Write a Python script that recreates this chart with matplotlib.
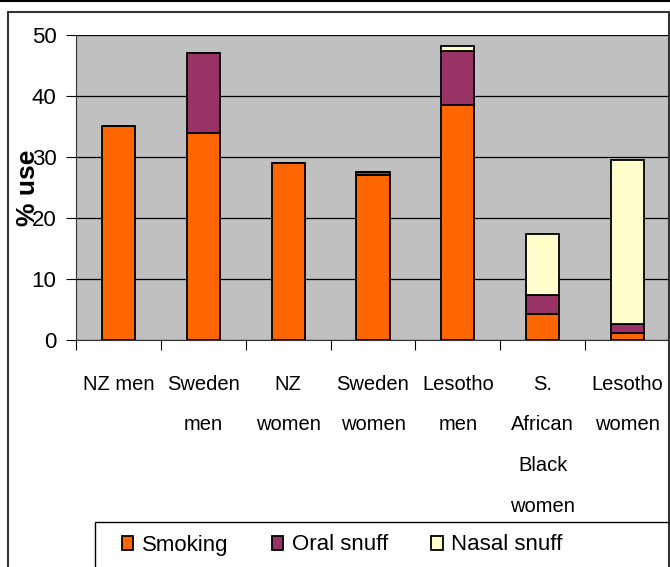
import matplotlib.pyplot as plt
import numpy as np
from matplotlib.patches import Rectangle
from matplotlib.lines import Line2D

groups = ['NZ men', 'Sweden\nmen', 'NZ\nwomen', 'Sweden\nwomen', 'Lesotho\nmen',
          'S.\nAfrican\nBlack\nwomen', 'Lesotho\nwomen']
smoking = [35, 34, 29, 27, 38.5, 4.3, 1.2]
oral = [0, 13, 0, 0.5, 8.8, 3.1, 1.5]
nasal = [0, 0, 0, 0, 0.9, 9.9, 26.8]
yticks = [0, 10, 20, 30, 40, 50]

plt.rcParams['font.family'] = ['Liberation Sans', 'DejaVu Sans']

fig = plt.figure(figsize=(6.7, 5.67), dpi=100)
ax = fig.add_axes([76/670, 1-340/567, 594/670, 305/567])
ax.set_facecolor('#C0C0C0')

x = np.arange(len(groups))
w = 0.39
kw = dict(width=w, edgecolor='black', linewidth=1.3, zorder=3)
ax.bar(x, smoking, color='#FF6600', label='Smoking', **kw)
ax.bar(x, oral, bottom=smoking, color='#993366', label='Oral snuff', **kw)
ax.bar(x, nasal, bottom=np.add(smoking, oral), color='#FFFFCC', label='Nasal snuff', **kw)

ax.set_xlim(-0.5, len(groups) - 0.5)
ax.set_ylim(0, 50)
ax.set_yticks(yticks)
ax.yaxis.grid(True, color='black', linewidth=0.9, zorder=0)
ax.set_axisbelow(True)
ax.set_xticks(np.arange(len(groups) + 1) - 0.5)
ax.set_xticklabels([])
ax.set_xticks(x, minor=True)
ax.set_xticklabels(groups, minor=True, fontsize=14.5, linespacing=2.45, va='top')
ax.tick_params(axis='x', which='minor', length=0, pad=25)
ax.tick_params(axis='x', which='major', length=7, direction='out', color='black')
ax.tick_params(axis='y', length=7, labelsize=16, pad=7)
for s in ['top', 'right']:
    ax.spines[s].set_visible(False)
ax.spines['left'].set_color('#333333')
ax.spines['bottom'].set_color('#333333')

fig.text(28/670, 1-188/567, '% use', rotation=90, ha='center', va='center',
         fontsize=19, fontweight='bold')

# outer chart frame
fig.patches.append(Rectangle((8/670, -0.1), 661/670, 1.1 - 12/567, transform=fig.transFigure,
                             fill=False, edgecolor='#333333', linewidth=1.5))
fig.lines.append(Line2D([0, 1], [1-0.8/567, 1-0.8/567], transform=fig.transFigure,
                        color='black', linewidth=1.5))
# legend box
fig.patches.append(Rectangle((95/670, -0.1), 580/670, 0.1 + 1 - 522/567, transform=fig.transFigure,
                             fill=False, edgecolor='black', linewidth=1.0))

leg = fig.legend(loc='center left', bbox_to_anchor=(122/670, 1-545/567), ncol=3,
                 fontsize=16, frameon=False,
                 handlelength=0.5, handleheight=0.6, handletextpad=0.4,
                 columnspacing=1.95, borderpad=0, borderaxespad=0)

fig.savefig('out.png', dpi=100)
